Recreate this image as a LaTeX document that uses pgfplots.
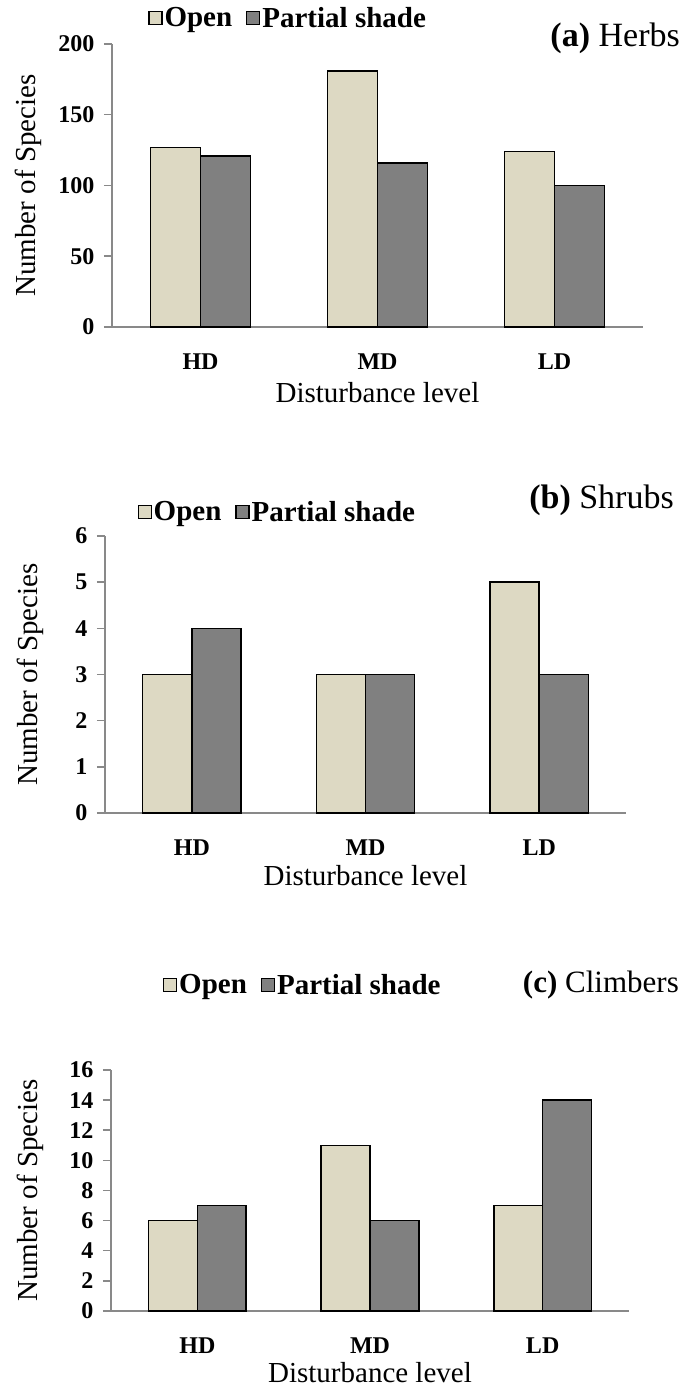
\documentclass[border=0pt]{standalone}
\usepackage{pgfplots}
\pgfplotsset{compat=1.18}
\usepackage{fontspec}
\setmainfont{Liberation Serif}
\definecolor{openc}{HTML}{DDD9C3}
\definecolor{shadec}{HTML}{808080}
\definecolor{axgray}{HTML}{898989}
\pgfplotsset{
  panel/.style={
    scale only axis, anchor=south west,
    ybar, bar width=0.283,
    legend image code/.code={\draw[##1,line width=1.2pt] (0pt,-6.5pt) rectangle (13pt,6.5pt);},
    xmin=-0.5, xmax=2.5, ymin=0,
    xtick={0,1,2}, xticklabels={HD,MD,LD},
    axis lines*=left,
    axis line style={axgray, line width=2pt},
    xtick style={draw=none},
    ytick style={axgray, line width=1.5pt},
    tick align=outside, major tick length=8pt,
    /pgf/number format/assume math mode=true,
    tick label style={font=\fontsize{24}{26}\selectfont\bfseries},
    xticklabel style={anchor=center, yshift=-27pt},
    yticklabel style={xshift=-6pt},
    label style={font=\fontsize{29}{32}\selectfont},
    ylabel={Number of Species},
    xlabel={Disturbance level},
    legend columns=2,
    legend style={draw=none, fill=none, inner sep=0pt,
      font=\fontsize{29}{32}\selectfont\bfseries,
      /tikz/every even column/.append style={column sep=12pt},
      nodes={inner sep=2pt}},
    clip=false,
  },
  openbar/.style={fill=openc, draw=black, line width=1.5pt, bar shift=-0.1415},
  shadebar/.style={fill=shadec, draw=black, line width=1.5pt, bar shift=0.1415},
}
\begin{document}
\begin{tikzpicture}
\path[use as bounding box] (0,0) rectangle (682pt,1390pt);
% (a) Herbs
\begin{axis}[panel, at={(112pt,1063pt)}, width=531pt, height=283pt,
  ymax=200, ytick={0,50,100,150,200},
  ylabel style={at={(axis description cs:-0.158,0.5)}, anchor=center},
  xlabel style={at={(axis description cs:0.5,-0.232)}, anchor=center},
  legend style={at={(axis description cs:0.068,1.092)}, anchor=west}]
\addplot[openbar] coordinates {(0,127) (1,181) (2,124)};
\addplot[shadebar] coordinates {(0,121) (1,116) (2,100)};
\legend{Open, Partial shade}
\end{axis}
% (b) Shrubs
\begin{axis}[panel, at={(105pt,577pt)}, width=521pt, height=277pt,
  ymax=6, ytick={0,1,2,3,4,5,6},
  ylabel style={at={(axis description cs:-0.144,0.5)}, anchor=center},
  xlabel style={at={(axis description cs:0.5,-0.226)}, anchor=center},
  legend style={at={(axis description cs:0.062,1.087)}, anchor=west}]
\addplot[openbar] coordinates {(0,3) (1,3) (2,5)};
\addplot[shadebar] coordinates {(0,4) (1,3) (2,3)};
\legend{Open, Partial shade}
\end{axis}
% (c) Climbers
\begin{axis}[panel, at={(111pt,79pt)}, width=518pt, height=241pt,
  ymax=16, ytick={0,2,4,6,8,10,12,14,16},
  ylabel style={at={(axis description cs:-0.156,0.5)}, anchor=center},
  xlabel style={at={(axis description cs:0.5,-0.257)}, anchor=center},
  legend style={at={(axis description cs:0.100,1.353)}, anchor=west}]
\addplot[openbar] coordinates {(0,6) (1,11) (2,7)};
\addplot[shadebar] coordinates {(0,7) (1,6) (2,14)};
\legend{Open, Partial shade}
\end{axis}
\node[anchor=east, inner sep=0pt, font=\fontsize{34}{37}\selectfont] at (680pt,1352pt) {\textbf{(a)} Herbs};
\node[anchor=east, inner sep=0pt, font=\fontsize{34}{37}\selectfont] at (674pt,890pt) {\textbf{(b)} Shrubs};
\node[anchor=east, inner sep=0pt, font=\fontsize{31}{34}\selectfont] at (679pt,405pt) {\textbf{(c)} Climbers};
\end{tikzpicture}
\end{document}
